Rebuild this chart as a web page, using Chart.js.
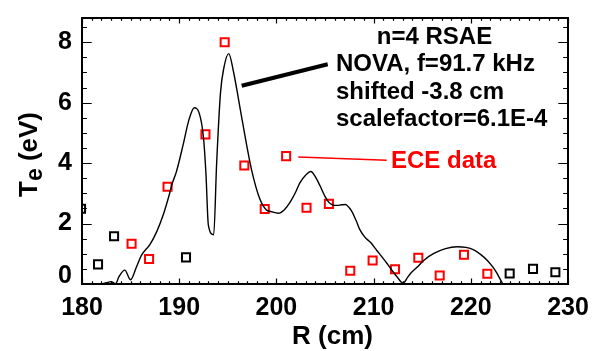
<!DOCTYPE html>
<html>
<head>
<meta charset="utf-8">
<script src="https://cdn.jsdelivr.net/npm/chart.js@4/dist/chart.umd.min.js"></script>
<style>
  html, body { margin: 0; padding: 0; background: #fff; }
  #wrap { width: 601px; height: 351px; }
</style>
</head>
<body>
<div id="wrap"><canvas id="c" width="601" height="351"></canvas></div>
<script>
// NOVA mode profile (shifted, scaled), R in cm, Te in eV
const novaR  = [182.0, 182.5, 183.0, 183.45, 183.8, 184.4, 185.0, 185.6, 186.1, 187.0,
                187.7, 188.35, 188.95, 189.3, 189.7, 190.4, 191.0, 191.55, 192.05, 192.5,
                192.75, 193.0, 193.55, 193.85, 194.25, 194.6, 195.1, 195.55, 196.1, 196.8,
                197.45, 198.3, 199.0, 199.4, 200.2, 200.8, 201.4, 202.0, 202.4, 203.0,
                203.55, 204.0, 204.5, 205.0, 205.4, 205.8, 206.2, 206.7, 207.1, 207.5,
                207.8, 208.2, 208.6, 209.1, 209.7, 210.35, 210.9, 211.4, 211.9, 212.4,
                213.05, 213.5, 213.8, 214.5, 215.15, 216.2, 217.4, 218.6, 219.5, 220.3,
                221.0, 221.7, 222.3, 222.7, 223.0, 223.3];
const novaTe = [0.0, 0.04, 0.08, 0.01, 0.24, 0.46, 0.14, 0.56, 0.94, 1.31,
                1.74, 2.28, 2.92, 3.34, 3.70, 4.60, 5.43, 5.83, 5.66, 4.84,
                3.66, 1.95, 1.63, 3.98, 6.33, 7.16, 7.62, 7.08, 6.12, 4.84,
                3.77, 2.81, 2.44, 2.40, 2.34, 2.45, 2.70, 3.05, 3.34, 3.60,
                3.72, 3.55, 3.24, 2.90, 2.70, 2.62, 2.60, 2.62, 2.63, 2.52,
                2.38, 2.10, 1.79, 1.55, 1.37, 1.10, 0.88, 0.67, 0.45, 0.24,
                0.03, 0.22, 0.35, 0.56, 0.78, 1.01, 1.17, 1.23, 1.21, 1.13,
                0.98, 0.78, 0.55, 0.35, 0.17, 0.0];

// ECE channels inside the mode region
const eceR  = [185.1, 186.9, 188.8, 192.7, 194.68, 196.7, 198.8, 201.0, 203.1,
               205.4, 207.6, 209.9, 212.2, 214.6, 216.8, 219.3, 221.7];
const eceTe = [1.33, 0.83, 3.22, 4.95, 8.0, 3.92, 2.48, 4.23, 2.52,
               2.65, 0.44, 0.78, 0.49, 0.87, 0.28, 0.97, 0.34];

// ECE channels outside the mode region
const otherR  = [179.9, 181.65, 183.3, 190.7, 224.0, 226.4, 228.7];
const otherTe = [2.49, 0.65, 1.58, 0.88, 0.35, 0.50, 0.39];

// axis tick labels
const xTickValues = [180, 190, 200, 210, 220, 230];
const yTickValues = [0, 2, 4, 6, 8];

// leader lines for the labels (R, Te)
const novaLeaderR  = [196.43, 205.28];
const novaLeaderTe = [6.56, 7.27];
const eceLeaderR   = [202.25, 211.35];
const eceLeaderTe  = [4.20, 4.09];

// label texts
const noteLines = ['n=4 RSAE', 'NOVA, f=91.7 kHz', 'shifted -3.8 cm', 'scalefactor=6.1E-4'];
const eceLabel = 'ECE data';

const FONT = "'Liberation Sans', Arial, Helvetica, sans-serif";
const pts = (xs, ys) => xs.map((x, i) => ({ x: x, y: ys[i] }));

// label anchors in data units (left edge, baseline)
const noteAnchors = [
  { x: 210.33, y: 7.94 },
  { x: 206.13, y: 7.04 },
  { x: 206.13, y: 6.13 },
  { x: 206.13, y: 5.22 }
];
const eceAnchor = { x: 211.79, y: 3.83 };

// IDL-style box with inward ticks on all four sides
const boxAxes = {
  id: 'boxAxes',
  afterDatasetsDraw(chart) {
    const { ctx, chartArea: a, scales: { x, y } } = chart;
    ctx.save();
    ctx.strokeStyle = '#000';
    ctx.lineWidth = 1.2;
    ctx.beginPath();
    for (let v = x.min, k = 0; v <= x.max + 1e-9; v += 1, k++) {
      const p = Math.round(x.getPixelForValue(v)) + 0.5;
      const len = (k % 10 === 0) ? 5.5 : 2.8;
      ctx.moveTo(p, a.bottom); ctx.lineTo(p, a.bottom - len);
      ctx.moveTo(p, a.top); ctx.lineTo(p, a.top + len);
    }
    for (let v = y.min, k = 0; v <= y.max + 1e-9; v += 0.5, k++) {
      const p = Math.round(y.getPixelForValue(v)) + 0.5;
      const len = (k % 4 === 0) ? 9.7 : 4.9;
      ctx.moveTo(a.left, p); ctx.lineTo(a.left + len, p);
      ctx.moveTo(a.right, p); ctx.lineTo(a.right - len, p);
    }
    ctx.stroke();
    ctx.lineWidth = 2;
    ctx.strokeRect(a.left, a.top, a.right - a.left, a.bottom - a.top);
    ctx.restore();
  }
};

// axis titles and plot labels
const labels = {
  id: 'labels',
  afterDraw(chart) {
    const { ctx, chartArea: a, scales: { x, y } } = chart;
    ctx.save();
    ctx.fillStyle = '#000';
    ctx.textBaseline = 'alphabetic';

    // x title
    ctx.font = 'bold 26px ' + FONT;
    ctx.textAlign = 'center';
    ctx.fillText('R (cm)', (a.left + a.right) / 2 + 7.5, a.bottom + 60);

    // y title with subscript
    ctx.save();
    ctx.translate(a.left - 45, a.bottom - 87);
    ctx.rotate(-Math.PI / 2);
    ctx.textAlign = 'left';
    ctx.font = 'bold 26px ' + FONT;
    ctx.fillText('T', 0, 0);
    let off = ctx.measureText('T').width;
    ctx.font = 'bold 23px ' + FONT;
    ctx.fillText('e', off, 5);
    off += ctx.measureText('e').width;
    ctx.font = 'bold 26px ' + FONT;
    ctx.fillText(' (eV)', off, 0);
    ctx.restore();

    // annotation block
    ctx.textAlign = 'left';
    ctx.font = 'bold 24px ' + FONT;
    noteLines.forEach((t, i) => {
      ctx.fillText(t, x.getPixelForValue(noteAnchors[i].x), y.getPixelForValue(noteAnchors[i].y));
    });
    ctx.fillStyle = '#ff0000';
    ctx.fillText(eceLabel, x.getPixelForValue(eceAnchor.x), y.getPixelForValue(eceAnchor.y));
    ctx.restore();
  }
};

new Chart(document.getElementById('c'), {
  type: 'scatter',
  data: {
    datasets: [
      {
        label: 'NOVA',
        data: pts(novaR, novaTe),
        showLine: true,
        borderColor: '#000',
        borderWidth: 1.4,
        pointRadius: 0,
        cubicInterpolationMode: 'monotone',
        fill: false
      },
      {
        label: 'ECE',
        data: pts(eceR, eceTe),
        pointStyle: 'rect',
        pointRadius: 5.7,
        pointHoverRadius: 5.7,
        borderWidth: 2,
        borderColor: '#ff0000',
        backgroundColor: 'rgba(0,0,0,0)'
      },
      {
        label: 'ECE outside',
        data: pts(otherR, otherTe),
        pointStyle: 'rect',
        pointRadius: 5.7,
        pointHoverRadius: 5.7,
        borderWidth: 2,
        borderColor: '#000',
        backgroundColor: 'rgba(0,0,0,0)'
      },
      {
        label: 'NOVA leader',
        data: pts(novaLeaderR, novaLeaderTe),
        showLine: true,
        borderColor: '#000',
        borderWidth: 4,
        pointRadius: 0,
        borderCapStyle: 'butt'
      },
      {
        label: 'ECE leader',
        data: pts(eceLeaderR, eceLeaderTe),
        showLine: true,
        borderColor: '#ff0000',
        borderWidth: 1.5,
        pointRadius: 0
      }
    ]
  },
  options: {
    responsive: false,
    devicePixelRatio: 1,
    animation: false,
    layout: { padding: { top: 10, right: 33, left: 0, bottom: 0 } },
    plugins: { legend: { display: false }, tooltip: { enabled: false } },
    scales: {
      x: {
        type: 'linear',
        min: 180,
        max: 230,
        afterFit(s) { s.height = 67; },
        afterBuildTicks(s) { s.ticks = xTickValues.map(v => ({ value: v })); },
        grid: { display: false, drawTicks: false },
        border: { display: false },
        ticks: {
          color: '#000',
          padding: 9,
          maxRotation: 0,
          autoSkip: false,
          font: { family: FONT, size: 25, weight: 'bold' }
        }
      },
      y: {
        type: 'linear',
        min: 0,
        max: 8.8,
        afterFit(s) { s.width = 82; },
        afterBuildTicks(s) { s.ticks = yTickValues.map(v => ({ value: v })); },
        grid: { display: false, drawTicks: false },
        border: { display: false },
        ticks: {
          color: '#000',
          padding: 10,
          autoSkip: false,
          callback: v => (v === 0 ? ['0', ''] : String(v)),
          font: { family: FONT, size: 25, weight: 'bold', lineHeight: 0.64 }
        }
      }
    }
  },
  plugins: [boxAxes, labels]
});
</script>
</body>
</html>
